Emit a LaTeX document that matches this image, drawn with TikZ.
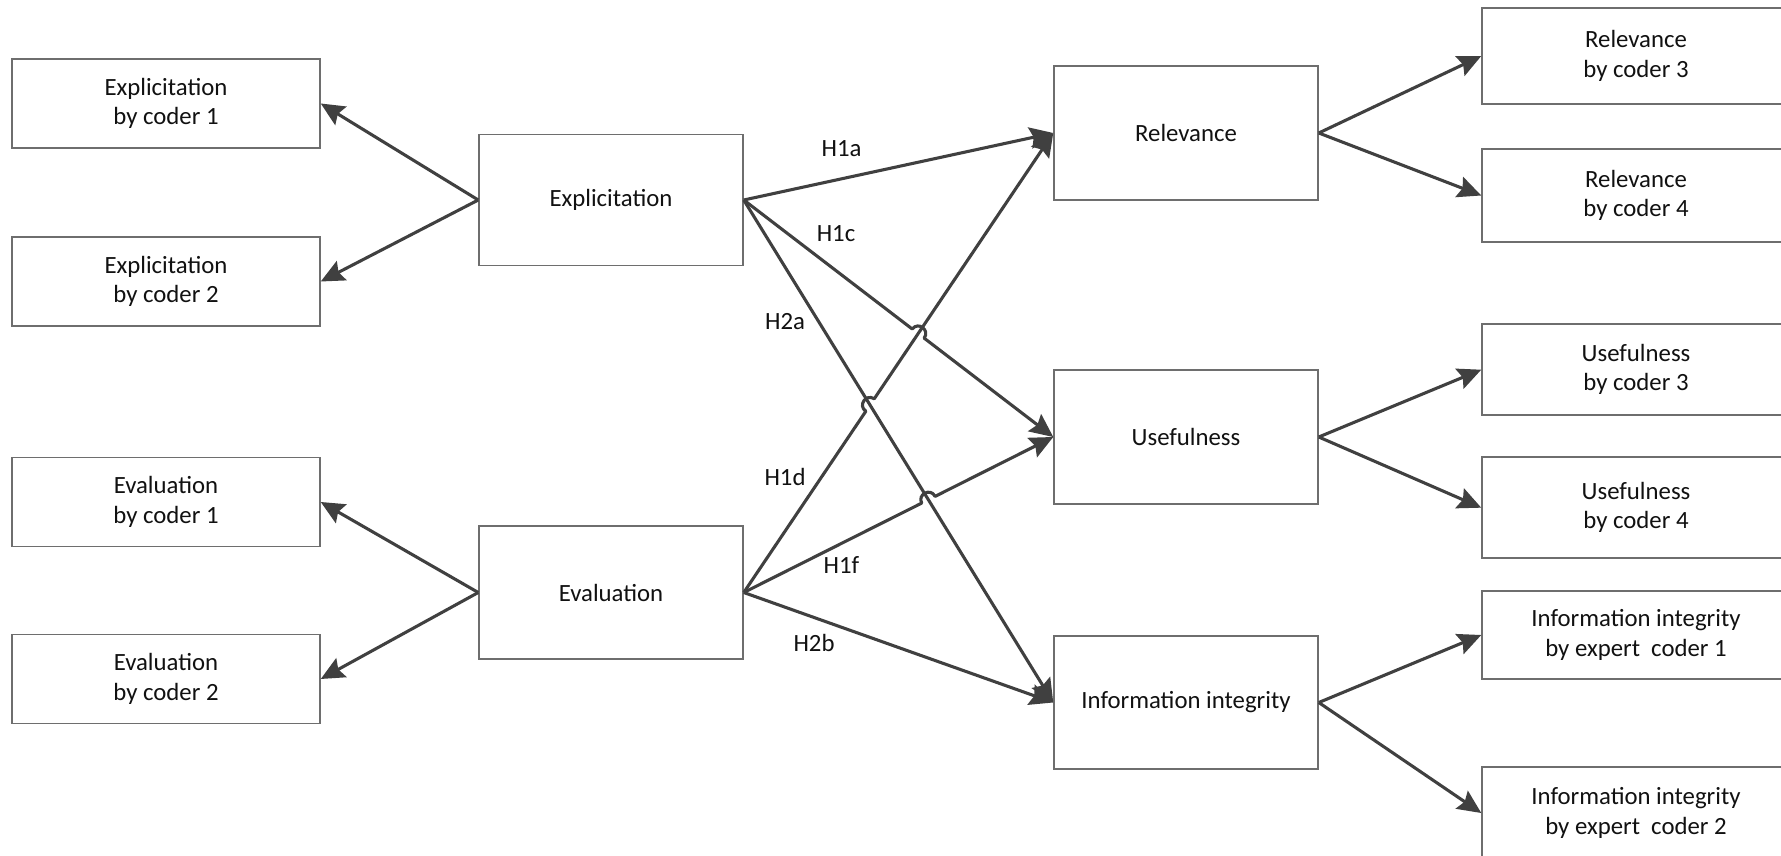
\documentclass[tikz,border=0pt]{standalone}
\usepackage{fontspec}
\setmainfont{Carlito}
\usetikzlibrary{arrows.meta,calc,intersections}
\definecolor{linegray}{HTML}{404040}
\definecolor{boxgray}{HTML}{6E6E6E}
\definecolor{textblack}{HTML}{111111}
\tikzset{
  box/.style={draw=boxgray, line width=0.85pt, fill=white, inner sep=0pt,
    align=center, text=textblack, font=\fontsize{14.1}{16.7}\selectfont},
  coderbox/.style={box, minimum width=61.6mm},
  mainbox/.style={box, minimum width=52.8mm},
  hyp/.style={text=textblack, font=\fontsize{14.1}{16.7}\selectfont, inner sep=0pt},
  arr/.style={draw=linegray, line width=1.75pt, line join=round,
    -{Stealth[length=4.7mm, width=4.3mm, inset=0.7mm]}},
}
% draws a connector from #1 to #2 that hops over the crossing point #3
\newcommand{\hopline}[3]{%
  \draw[arr] (#1) -- ($(#3)!1.5mm!(#1)$) coordinate (ha)
    .. controls ($(ha)!0.667!90:($(#3)!1.5mm!(#2)$)$)
       and ($($(#3)!1.5mm!(#2)$)!0.667!-90:(ha)$) ..
    ($(#3)!1.5mm!(#2)$) -- (#2);}
\begin{document}
\begin{tikzpicture}[x=0.2mm, y=-0.2mm]
  \useasboundingbox (0,0) rectangle (1781,856);
  \clip (0,0) rectangle (1781,856);
  \fill[white] (0,0) rectangle (1781,856);

  % coder boxes on the left
  \node[coderbox, minimum height=17.8mm] (ec1) at (166,103.5) {Explicitation\\by coder 1};
  \node[coderbox, minimum height=17.8mm] (ec2) at (166,281.5) {Explicitation\\by coder 2};
  \node[coderbox, minimum height=17.8mm] (ev1) at (166,502) {Evaluation\\by coder 1};
  \node[coderbox, minimum height=17.8mm] (ev2) at (166,679) {Evaluation\\by coder 2};

  % predictor constructs
  \node[mainbox, minimum height=26.2mm] (expl) at (611,200) {Explicitation};
  \node[mainbox, minimum height=26.6mm] (eval) at (611,592.5) {Evaluation};

  % outcome constructs
  \node[mainbox, minimum height=26.8mm] (rel) at (1186,133) {Relevance};
  \node[mainbox, minimum height=26.8mm] (use) at (1186,437) {Usefulness};
  \node[mainbox, minimum height=26.6mm] (info) at (1186,702.5) {Information integrity};

  % coder boxes on the right
  \node[coderbox, minimum height=19.2mm] (rc3) at (1636,56) {Relevance\\by coder 3};
  \node[coderbox, minimum height=18.6mm] (rc4) at (1636,195.5) {Relevance\\by coder 4};
  \node[coderbox, minimum height=18.2mm] (uc3) at (1636,369.7) {Usefulness\\by coder 3};
  \node[coderbox, minimum height=20.2mm] (uc4) at (1636,507.7) {Usefulness\\by coder 4};
  \node[coderbox, minimum height=17.6mm] (ic1) at (1636,635) {Information integrity\\by expert\ \ coder 1};
  \node[coderbox, minimum height=18.4mm] (ic2) at (1636,813) {Information integrity\\by expert\ \ coder 2};

  % measurement arrows
  \draw[arr] (expl.west) -- (ec1.east);
  \draw[arr] (expl.west) -- (ec2.east);
  \draw[arr] (eval.west) -- (ev1.east);
  \draw[arr] (eval.west) -- (ev2.east);
  \draw[arr] (rel.east) -- (rc3.west);
  \draw[arr] (rel.east) -- (rc4.west);
  \draw[arr] (use.east) -- (uc3.west);
  \draw[arr] (use.east) -- (uc4.west);
  \draw[arr] (info.east) -- (ic1.west);
  \draw[arr] (info.east) -- (ic2.west);

  % crossing points of the hypothesis paths
  \path[name path=p1c] (expl.east) -- (use.west);
  \path[name path=p1d] (eval.east) -- (rel.west);
  \path[name path=p2a] (expl.east) -- (info.west);
  \path[name path=p1f] (eval.east) -- (use.west);
  \path[name intersections={of=p1c and p1d, by=xa}];
  \path[name intersections={of=p2a and p1d, by=xb}];
  \path[name intersections={of=p2a and p1f, by=xc}];

  % hypothesis paths
  \draw[arr] (expl.east) -- (rel.west);
  \draw[arr] (expl.east) -- (info.west);
  \draw[arr] (eval.east) -- (info.west);
  \hopline{expl.east}{use.west}{xa}
  \draw[arr] (eval.east) -- ($(xb)!1.5mm!(eval.east)$) coordinate (hb)
    .. controls ($(hb)!0.667!90:($(xb)!1.5mm!(xa)$)$)
       and ($($(xb)!1.5mm!(xa)$)!0.667!-90:(hb)$) ..
    ($(xb)!1.5mm!(xa)$) -- (rel.west);
  \hopline{eval.east}{use.west}{xc}

  % hypothesis labels
  \node[hyp] (h1a) at (841.5,149) {H1a};
  \node[hyp] (h1c) at (836,234) {H1c};
  \node[hyp] (h2a) at (785,321.5) {H2a};
  \node[hyp] (h1d) at (785,477) {H1d};
  \node[hyp] (h1f) at (841.5,565.5) {H1f};
  \node[hyp] (h2b) at (814,643) {H2b};
\end{tikzpicture}
\end{document}
